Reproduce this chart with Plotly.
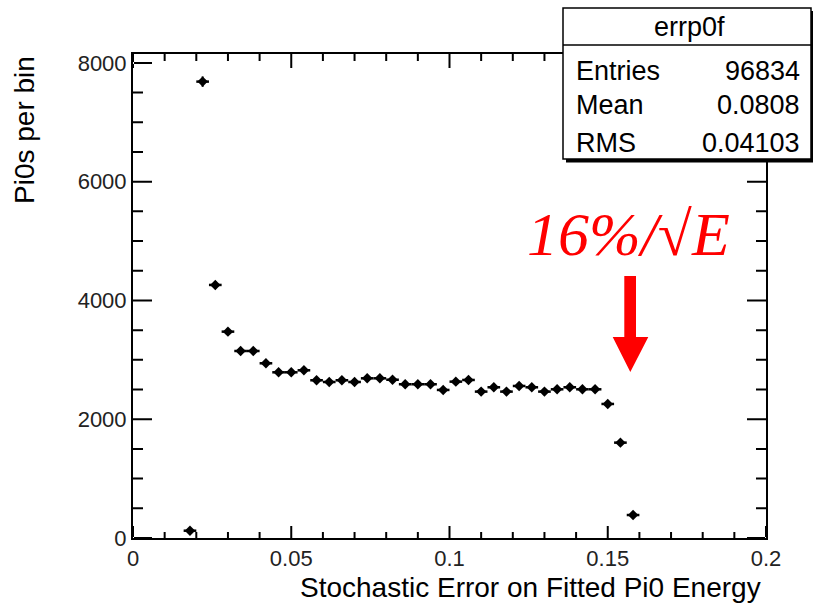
import numpy as np
import plotly.graph_objects as go

# ---- data ----
bin_centers = [0.018, 0.022, 0.026, 0.030, 0.034, 0.038, 0.042, 0.046, 0.050,
               0.054, 0.058, 0.062, 0.066, 0.070, 0.074, 0.078, 0.082, 0.086,
               0.090, 0.094, 0.098, 0.102, 0.106, 0.110, 0.114, 0.118, 0.122,
               0.126, 0.130, 0.134, 0.138, 0.142, 0.146, 0.150, 0.154, 0.158]
counts = [123, 7685, 4261, 3475, 3149, 3149, 2942, 2790, 2790,
          2824, 2656, 2627, 2656, 2627, 2689, 2689, 2665, 2589,
          2589, 2589, 2493, 2633, 2661, 2465, 2538, 2465, 2560,
          2538, 2465, 2504, 2538, 2504, 2504, 2257, 1606, 387]
bin_width = 0.004
x_tick_vals = [0, 0.05, 0.1, 0.15, 0.2]
x_tick_text = ["0", "0.05", "0.1", "0.15", "0.2"]
x_minor_step = 0.01
y_tick_vals = [0, 2000, 4000, 6000, 8000]
y_tick_text = ["0", "2000", "4000", "6000", "8000"]
y_minor_step = 500
stats_name = "errp0f"
stats_labels = ["Entries", "Mean", "RMS"]
stats_values = ["96834", "0.0808", "0.04103"]
x_title = "Stochastic Error on Fitted Pi0 Energy"
y_title = "Pi0s per bin"
note_text = "16%/\u221AE"

# ---- geometry ----
W, H = 813, 610
L, R, T, B = 133, 766, 54, 538
XMAX, YMAX = 0.2, 8150
PW, PH = R - L, B - T
XPIX = XMAX / PW   # data units per pixel, x
YPIX = YMAX / PH   # data units per pixel, y


def px(xp):
    return (xp - L) / PW


def py(yp):
    return (B - yp) / PH


def dx(xp):
    return (xp - L) / PW * XMAX


def dy(yp):
    return (B - yp) / PH * YMAX


font_main = "Liberation Sans, Arial, Helvetica, sans-serif"

fig = go.Figure()
fig.add_trace(go.Scatter(
    x=bin_centers, y=counts, mode="markers",
    marker=dict(symbol="diamond", size=8, color="black"),
    error_x=dict(type="constant", value=bin_width / 2, thickness=2.5, width=0, color="black"),
    error_y=dict(type="data", array=list(np.sqrt(counts)), thickness=2, width=0, color="black"),
    showlegend=False,
))

shapes = []

# ---- axis ticks (ROOT style: inside, on all four sides) as filled tick rectangles ----
x_minor = [float(v) for v in np.arange(0, XMAX + 1e-9, x_minor_step)
           if not any(abs(v - m) < 1e-9 for m in x_tick_vals)]
y_minor = [float(v) for v in np.arange(0, YMAX, y_minor_step)
           if not any(abs(v - m) < 1e-6 for m in y_tick_vals)]


def rect(x0, x1, y0, y1):
    return f"M {x0},{y0} L {x1},{y0} L {x1},{y1} L {x0},{y1} Z "


tick_path = ""
hw_x, hw_y = 1.0 * XPIX, 1.0 * YPIX
for vals, ln_b, ln_t in ((x_tick_vals, 12, 14), (x_minor, 6, 7)):
    for v in vals:
        tick_path += rect(v - hw_x, v + hw_x, 0, ln_b * YPIX)
        tick_path += rect(v - hw_x, v + hw_x, YMAX - ln_t * YPIX, YMAX)
for vals, ln in ((y_tick_vals, 19), (y_minor, 10)):
    for v in vals:
        tick_path += rect(0, ln * XPIX, v - hw_y, v + hw_y)
        tick_path += rect(XMAX - ln * XPIX, XMAX, v - hw_y, v + hw_y)
shapes.append(dict(type="path", xref="x", yref="y", path=tick_path.strip(),
                   fillcolor="black", line=dict(width=0), layer="above"))

# stats box shadow + box
shapes.append(dict(type="rect", xref="paper", yref="paper", layer="above",
                   x0=px(566), x1=px(816), y0=py(11), y1=py(162.5),
                   fillcolor="black", line=dict(width=0)))
shapes.append(dict(type="rect", xref="paper", yref="paper", layer="above",
                   x0=px(563), x1=px(811), y0=py(8), y1=py(159),
                   fillcolor="white", line=dict(color="black", width=1.5)))
shapes.append(dict(type="line", xref="paper", yref="paper", layer="above",
                   x0=px(563), x1=px(811), y0=py(45), y1=py(45),
                   line=dict(color="black", width=1.5)))
# red arrow
ax_l, ax_r = dx(624.3), dx(636)
hx_l, hx_r = dx(612.7), dx(648.3)
xc = dx(630.3)
y_top, y_neck, y_tip = dy(276), dy(337), dy(372)
path = (f"M {ax_l},{y_top} L {ax_r},{y_top} L {ax_r},{y_neck} L {hx_r},{y_neck} "
        f"L {xc},{y_tip} L {hx_l},{y_neck} L {ax_l},{y_neck} Z")
shapes.append(dict(type="path", xref="x", yref="y", path=path,
                   fillcolor="#ff0000", line=dict(width=0), layer="above"))

annotations = []
annotations.append(dict(text=stats_name, xref="paper", yref="paper",
                        x=px(689), y=py(27), xanchor="center", yanchor="middle",
                        showarrow=False, font=dict(family=font_main, size=27, color="black")))
row_y = [71, 105, 143]
for lab, val, yy in zip(stats_labels, stats_values, row_y):
    annotations.append(dict(text=lab, xref="paper", yref="paper", x=px(574), y=py(yy),
                            xanchor="left", yanchor="middle", showarrow=False,
                            font=dict(family=font_main, size=27, color="black")))
    annotations.append(dict(text=val, xref="paper", yref="paper", x=px(802), y=py(yy),
                            xanchor="right", yanchor="middle", showarrow=False,
                            font=dict(family=font_main, size=27, color="black")))
annotations.append(dict(text=x_title, xref="paper", yref="paper", x=px(763), y=py(587),
                        xanchor="right", yanchor="middle", showarrow=False,
                        font=dict(family=font_main, size=28, color="black")))
annotations.append(dict(text=y_title, xref="paper", yref="paper", x=px(24), y=py(130),
                        xanchor="center", yanchor="middle", textangle=-90, showarrow=False,
                        font=dict(family=font_main, size=28, color="black")))
annotations.append(dict(text="<i>" + note_text + "</i>", xref="paper", yref="paper",
                        x=px(628), y=py(234), xanchor="center", yanchor="middle",
                        showarrow=False,
                        font=dict(family="Liberation Serif, Times New Roman, serif",
                                  size=62, color="#ff0000")))

fig.update_layout(
    width=W, height=H, autosize=False,
    margin=dict(l=L, r=W - R, t=T, b=H - B, pad=0),
    paper_bgcolor="white", plot_bgcolor="white",
    shapes=shapes, annotations=annotations,
    xaxis=dict(range=[0, XMAX], tickmode="array", tickvals=x_tick_vals, ticktext=x_tick_text,
               ticks="", showline=True, linewidth=2, linecolor="black", mirror=True,
               showgrid=False, zeroline=False,
               tickfont=dict(family=font_main, size=22, color="#222")),
    yaxis=dict(range=[0, YMAX], tickmode="array", tickvals=y_tick_vals, ticktext=y_tick_text,
               ticks="", showline=True, linewidth=2, linecolor="black", mirror=True,
               showgrid=False, zeroline=False,
               tickfont=dict(family=font_main, size=22, color="#222")),
)

fig.write_html("out.html")
